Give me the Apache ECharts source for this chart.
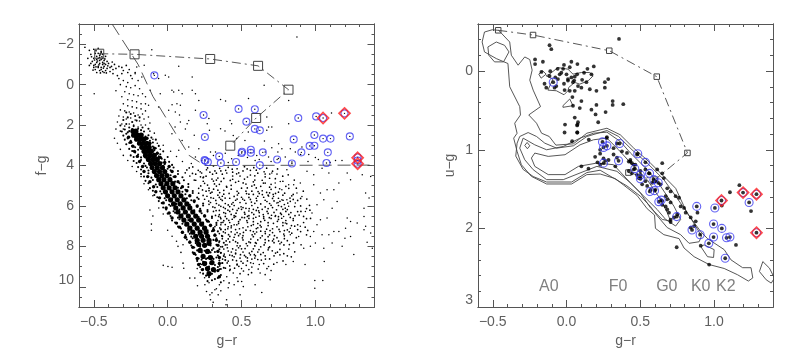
<!DOCTYPE html>
<html><head><meta charset="utf-8">
<script src="https://cdn.jsdelivr.net/npm/echarts@6/dist/echarts.min.js"></script>
<style>html,body{margin:0;padding:0;background:#fff}#c{width:797px;height:358px}</style></head>
<body><div id="c"></div>
<script>
// Values are estimates. Where the stars merge into a solid mass they cannot be
// read singly, so the dense ridge is a hand-placed, thinned set of heavier marks, not a star-by-star copy.
const xTicks=[-0.5,0,0.5,1];
const fgTicks=[-2,0,2,4,6,8,10];
const ugTicks=[0,1,2,3];
const spectralNames=['A0','F0','G0','K0','K2'];
const spectralX=[-0.12,0.35,0.68,0.91,1.08];
const spectralY=2.74;

// LEFT PANEL (g-r, f-g), flat x,y lists
const horizontalBranch=[-.56,-1.85,-.53,-1.7,-.5,-1.75,-.47,-1.8,-.45,-1.6,-.52,-1.5,-.49,-1.55,-.46,-1.45,-.44,-1.5,-.42,-1.4,-.5,-1.3,-.47,-1.3,-.45,-1.25,-.43,-1.2,-.51,-1.15,-.48,-1.1,-.46,-1.05,-.44,-1.1,-.42,-1,-.4,-1.05,-.5,-.95,-.47,-.9,-.45,-.85,-.43,-.9,-.41,-.8,-.49,-.75,-.46,-.7,-.44,-.65,-.42,-.7,-.39,-.65,-.54,-1.3,-.52,-1.05,-.38,-.9,-.36,-1,-.35,-.8,-.33,-.9,-.31,-.85,-.3,-.7,-.28,-.95,-.26,-.75,-.37,-.55,-.34,-.45,-.31,-.55,-.27,-.6,-.25,-.45,-.22,-.6,-.45,-1.65,-.48,-1.4,-.46,-1.2,-.44,-1,-.49,-1,-.47,-.85,-.45,-.75,-.43,-1.05,-.48,-1.25,-.46,-1.35,-.44,-1.3,-.41,-1.15,-.47,-1.55,-.43,-.6,-.39,-.85,-.37,-.75,-.48,-.6,-.5,-.85,-.53,-.95,-.455,-1.52,-.475,-1.17,-.495,-1.22,-.435,-.82,-.465,-.98,-.425,-1.27,-.405,-.93,-.515,-1.38,-.485,-1.68,-.445,-1.38,-.455,-.58,-.485,-.88,-.505,-.72,-.415,-.58,-.375,-1.12];
const upperTail=[-.33,-.3,-.3,-.2,-.27,-.1,-.24,-.3,-.2,-.2,-.32,0,-.28,.1,-.25,.15,-.22,.05,-.19,.2,-.29,.35,-.26,.45,-.23,.5,-.2,.55,-.17,.45,-.15,.6,-.24,.8,-.21,.85,-.18,.95,-.15,.95,-.27,.75,-.31,.6,-.35,.3,-.3,.95,-.27,1.05,-.24,1.1,-.21,1.15,-.18,1.2,-.32,1.25,-.29,1.3,-.26,1.35,-.23,1.4,-.2,1.5,-.17,1.45,-.15,1.3,-.33,1.55,-.3,1.6,-.28,1.7,-.25,1.65,-.22,1.75,-.19,1.8,-.16,1.7,-.13,1.6,-.34,1.85,-.31,1.95,-.29,2.05,-.26,1.95,-.23,2,-.2,2.1,-.18,2,-.15,2,-.12,1.9,-.35,2.2,-.32,2.3,-.3,2.2,-.12,2.3,-.09,2.4,-.1,2.7,-.07,2.9,-.05,3.2,-.03,3,-.36,2.65,-.34,2.9,-.32,3.2,-.3,3.5,-.27,3.75,-.24,4.05,-.21,4.3,-.18,4.55,-.16,4.9,-.13,5.2,-.1,5.5];
const sparseUpper=[-.107,-1.73,-.209,-.87,-.159,-.96,-.22,-.54,-.175,-.38,-.118,.28,-.05,.45,-.016,-.46,.007,-.38,-.061,-.3,.075,-.91,.166,-.38,.029,.28,.041,.36,.075,.28,.098,.45,.166,.28,.188,.45,.211,.78,.358,.74,.392,.81,-.129,1.02,-.061,1.11,.007,1.27,.063,.94,.086,1.02,.052,1.35,.143,1.77,.132,1.93,.086,1.85,.279,1.68,.268,1.93,.283,2.26,.358,2.18,.388,2.29,.188,1.27,-.095,-.54,-.497,.45,.098,2.76,.075,3.25,.143,3.09,.211,3.17,.324,3.33,.29,3.33,.31,3.5,.188,3.58,.23,3.75,.029,2.43,.03,1.0,.08,1.5,.12,2.2,.18,2.5,.05,2.1,.1,3.8,.06,3.55,.02,3.3,.16,3.9,.875,-2.36,.653,.03,.547,.69,.819,.78,.671,1.6,.819,1.93,.683,2.1,.671,2.26,.705,2.1,1.109,1.4,.422,1.77,.433,1.93,.444,2.51,.467,2.67,.523,2.76,.546,2.34,.655,2.79,.705,3.12,.751,2.92,.773,3.17,.746,3.33,.83,3.17,.864,3.33,.909,3.09,.955,3.45,1.0,3.6,.9,3.45,1.136,3.75,1.18,3.75,.841,3.83,.796,3.58,.66,3.33,.683,3.58,.603,3.5,.592,3.75,.524,3.33,.478,3.5,.433,3.67,.39,3.4,.41,3.85,.54,3.6,.62,3.7,.7,3.8,.75,3.65,.95,3.8,1.02,3.7,1.1,3.85];
const sparseRight=[.807,4.21,.943,4.29,.989,4.46,1.045,4.13,1.091,4.37,1.159,4.87,1.238,4.7,1.079,5.2,.989,4.95,1.034,5.36,1.125,5.2,1.215,4.37,1.317,4.46,1.374,4.54,1.34,5.36,1.363,5.61,1.147,5.78,1.057,5.69,1.011,5.94,1.113,6.11,1.079,6.6,1.034,6.68,1.011,6.93,.932,6.27,.977,6.35,1.238,6.77,1.215,6.6,1.283,6.85,1.329,6.52,1.204,7.1,1.159,7.26,1.125,7.26,1.091,7.43,1.045,7.43,.989,7.26,.966,8,.921,8.09,1.057,8.09,1.113,7.84,1.181,8,1.238,7.51,1.329,7.18,1.34,7.01,1.374,7.34,1.329,6.11,1.385,8.09,.966,7.51,1,7.84,.887,7.51,.898,7.01,.83,7.43,.83,7.1,.796,6.85,.785,6.52,.728,6.52,.705,4.37,.728,4.87,.762,4.79,.773,5.2,.819,4.95,.853,4.95,.898,4.87,.875,5.36,.909,5.53,.864,5.86,.819,6.02,.773,5.69,.739,5.86,.717,5.53,.807,5.69,.996,9.69,1.05,9.69,.996,10.07,1.06,8.75,1.35,7.8,1.26,8.4,1.2,7.6,.93,8.9,.8,8.9,.85,8.75];
const lowerTail=[.286,10.4,.29,10.64,.308,10.77,.342,10.4,.399,10.64,.395,10.89,.32,10.15,.263,10.23,.252,9.9,.202,9.95,.15,9.57,.184,9.57,-.03,8.94,.002,9,.03,9.03,.104,8.83,.109,9.08,.07,8,.104,7.92,.49,10.4,.637,10.28,.694,9.65,.66,9.4,.592,9.9,.512,9.99,.501,9.74,.444,9.32,.546,9.4,.626,9.32,.683,9,-.11,6.9,-.11,7.2,-.12,6.2,-.1,6.5,.03,7.5,0,7.2,.06,7.75,-.06,6.1,-.03,6.4,.09,8.3,.35,9.9,.38,9.7,.33,10.1,.36,10.2,.3,10.3,.41,10.05,.4,9.5,.45,9.9,.47,9.55,.42,9.2,.5,9.1,.58,8.85,.55,9.15,.62,8.9,.7,9.2,.74,8.8,.28,9.8,.25,9.55,.22,9.3,.2,9.1,.23,8.9];
const fieldCloud=[.13,4.22,.17,4.07,.22,4.31,.27,4.12,.31,4.02,.36,4.27,.41,4.09,.44,4.33,.52,4.06,.56,4.24,.61,4.38,.67,4.13,.71,4.28,.26,4.53,.34,4.62,.37,4.43,.44,4.68,.49,4.52,.54,4.57,.59,4.51,.64,4.73,.69,4.63,.74,4.42,.19,4.73,.25,4.88,.31,4.77,.35,4.93,.43,4.98,.46,4.83,.53,4.92,.58,4.81,.63,5.03,.66,4.87,.73,5.08,.78,4.78,.21,5.13,.28,5.24,.33,5.02,.38,5.23,.4,5.07,.47,5.28,.5,5.12,.57,5.27,.6,5.11,.67,5.33,.7,5.18,.75,5.32,.82,5.13,.85,5.43,.24,5.48,.29,5.37,.35,5.58,.38,5.42,.45,5.53,.48,5.37,.55,5.58,.58,5.43,.65,5.57,.68,5.47,.75,5.62,.78,5.47,.85,5.68,.88,5.73,.29,5.83,.36,5.67,.39,5.88,.46,5.72,.49,5.83,.56,5.68,.59,5.87,.66,5.72,.69,5.88,.76,5.77,.79,5.93,.86,6.03,.94,6.13,.32,6.08,.39,6.13,.42,6.03,.48,6.12,.51,6.08,.58,6.17,.61,6.08,.68,6.13,.71,6.08,.78,6.17,.81,6.18,.88,6.28,.35,6.43,.42,6.27,.45,6.48,.52,6.32,.55,6.48,.62,6.33,.65,6.53,.72,6.32,.75,6.53,.82,6.42,.85,6.63,.92,6.52,.38,6.73,.45,6.57,.48,6.78,.55,6.62,.58,6.78,.65,6.62,.68,6.83,.75,6.67,.78,6.83,.85,6.72,.88,6.93,.41,7.03,.48,6.87,.51,7.08,.58,6.92,.61,7.08,.68,6.97,.71,7.13,.78,6.97,.81,7.18,.88,7.17,.39,7.33,.46,7.17,.49,7.38,.56,7.22,.59,7.38,.66,7.27,.69,7.43,.76,7.27,.79,7.48,.41,7.63,.48,7.47,.51,7.68,.58,7.52,.61,7.68,.68,7.52,.71,7.73,.79,7.62,.39,7.93,.46,7.77,.49,7.98,.56,7.82,.59,7.98,.66,7.82,.69,8.03,.76,7.87,.41,8.23,.48,8.07,.51,8.28,.58,8.12,.61,8.28,.68,8.17,.73,8.33,.39,8.53,.46,8.37,.49,8.58,.56,8.42,.59,8.58,.66,8.47,.37,8.83,.44,8.67,.47,8.88,.54,8.72,.57,8.63,.35,9.13,.42,8.97,.47,8.92,.33,4.38,.4,4.37,.48,4.78,.57,5.02,.62,5.38,.71,5.63,.77,6.03,.53,5.27,.6,5.62,.43,5.17,.5,5.57,.53,5.87,.57,6.33,.46,6.52,.54,6.82,.6,7.12,.64,7.48,.72,7.82,.43,7.08,.51,7.47,.55,7.78,.63,8.02,.46,8.33,.54,8.57,.36,6.93,.35,7.37,.37,7.62,.38,8.13,.36,8.32,.34,5.22,.37,5.52,.42,5.62,.45,5.98,.5,6.17,.54,6.52,.61,6.87,.44,6.17,.39,6.52,.69,5.07,.73,5.38,.66,4.42,.59,4.72,.56,4.47,.51,4.27,.19,4.43,.18,4.72,.21,5.37,.25,5.67,.28,5.92,.31,6.27,.34,6.72,.32,7.02,.39,7.17,.3,4.67,.27,4.97,.23,4.37,.33,4.72,.28,5.12,.3,5.32,.26,5.27,.34,5.47,.31,5.62,.37,5.73,.33,5.88,.36,6.02,.41,5.95,.35,6.22,.38,6.33,.43,6.42,.4,6.63,.36,6.63,.42,6.82,.39,6.92,.45,6.93,.43,7.28,.47,7.32,.45,7.55,.42,7.78,.47,7.97,.44,8.12,.45,8.52,.42,8.43,.41,8.73,.5,8.12,.52,8.45,.49,6.68,.52,6.58,.47,6.22,.55,6.25,.53,6.12,.6,6.22,.64,6.17,.62,6.5,.58,6.62,.63,6.78,.7,6.62,.73,6.48,.68,6.37,.66,6.05,.7,5.97,.63,5.9,.57,5.98,.52,5.72,.47,5.66,.55,5.42,.61,5.52,.64,5.25,.69,5.35,.72,5.75,.75,5.98,.8,6.27,.83,6.57,.8,6.72,.77,6.42,.74,7.03,.71,7.32,.67,7.15,.63,7.25,.58,7.27,.53,7.2,.74,7.57,.77,7.8,.81,7.72,.66,7.67,.6,7.85,.54,7.97,.57,8.25,.63,8.4,.69,8.62,.76,8.42,.82,8.13,.86,8.27,.6,4.23,.47,4.16,.38,4.64,.24,4.6,.15,4.52,.32,4.27,.44,4.52,.52,4.67,.66,4.56,.7,4.93,.8,5.03,.84,5.5,.9,5.63,.83,5.77,.9,6,.96,5.97,.94,6.63,.89,6.45,.92,6.82,.86,7,.9,7.27,.84,7.35,.79,7.22,.94,7.43,.76,8.15,.72,8.47,.81,8.47,.65,8.85,.61,8.65,.51,8.83,.57,9.02,.49,9.35];
const fieldExtra=[.243,4.57,.286,4.33,.317,4.91,.362,4.79,.398,5.03,.424,4.74,.467,4.41,.511,4.86,.539,5.11,.587,4.96,.612,5.29,.648,4.87,.683,5.51,.729,4.65,.758,5.15,.792,5.37,.828,5.61,.311,5.17,.352,5.34,.389,5.61,.416,5.38,.443,5.83,.472,5.46,.508,5.66,.534,5.39,.567,5.81,.603,5.74,.641,5.44,.672,5.78,.714,5.43,.747,5.83,.781,5.72,.813,5.86,.293,5.59,.326,5.73,.347,5.96,.378,6.07,.408,6.21,.434,5.91,.463,6.36,.497,6.04,.523,6.41,.552,6.13,.583,6.42,.616,6.24,.647,6.43,.673,6.27,.703,6.46,.737,6.19,.764,6.36,.796,6.11,.834,6.33,.862,6.48,.324,6.47,.357,6.56,.392,6.37,.414,6.71,.437,6.66,.468,6.93,.503,6.57,.536,6.73,.566,6.97,.597,6.56,.626,6.96,.657,6.71,.688,6.58,.716,6.86,.743,6.76,.772,6.61,.806,6.88,.838,6.97,.353,7.09,.374,6.81,.407,7.13,.431,6.99,.456,7.41,.486,7.13,.513,7.31,.543,7.03,.572,7.43,.602,7.29,.633,7.04,.661,7.37,.693,7.22,.723,7.47,.754,7.16,.786,7.39,.823,7.28,.348,7.81,.366,7.47,.396,7.73,.421,7.51,.443,7.69,.474,7.83,.506,7.58,.532,7.86,.563,7.64,.594,7.82,.628,7.58,.653,7.93,.684,7.72,.717,7.64,.751,7.74,.787,7.93,.358,8.02,.383,8.38,.404,8.07,.431,8.28,.462,8.18,.493,8.41,.524,8.11,.553,8.33,.587,8.41,.618,8.16,.647,8.31,.683,8.08,.708,8.22,.743,8.29,.372,8.63,.403,8.82,.437,8.46,.466,8.71,.497,8.74,.529,8.52,.562,8.81,.594,8.47,.634,8.68,.662,8.63,.352,8.97,.391,9.08,.423,9.14,.453,9.08,.482,8.99,.513,9.22,.532,8.94,.222,4.56,.207,4.24,.168,4.39,.263,4.21,.241,4.78,.224,5.01,.236,5.21,.266,5.52,.278,5.76,.306,6.05,.328,6.23,.345,6.52,.362,6.83,.377,7.28,.412,7.42,.402,7.92,.146,4.12,.119,4.36,.304,4.43,.352,4.14,.393,4.24,.437,4.18,.481,4.36,.538,4.17,.583,4.11,.623,4.16,.691,4.42,.653,4.31,.744,4.17,.779,4.53,.816,4.46,.857,4.72,.871,5.12,.918,5.27,.942,5.66,.963,6.21,.967,6.62,.902,6.27,.931,7.05,.948,7.21,.871,7.57,.852,7.83,.903,7.92,.824,7.91,.786,8.36,.837,8.52,.781,8.72,.718,8.88,.672,9.1,.613,9.12,.568,9.3,.476,9.73,.416,9.81];
const ridgeMass=[-.3,1.75,-.27,1.62,-.24,1.85,-.21,1.78,-.32,2.02,-.28,1.95,-.26,2.12,-.23,2.05,-.2,2.18,-.17,2.12,-.31,2.32,-.29,2.22,-.27,2.36,-.24,2.2,-.21,2.38,-.18,2.25,-.16,2.32,-.13,2.18,-.3,2.52,-.28,2.43,-.26,2.58,-.17,2.46,-.15,2.57,-.13,2.5,-.11,2.62,-.29,2.72,-.27,2.66,-.25,2.78,-.14,2.67,-.12,2.78,-.1,2.86,-.08,2.72,-.28,2.95,-.26,2.88,-.24,3.02,-.22,3.1,-.12,2.96,-.1,3.06,-.08,3.15,-.06,3.03,-.26,3.18,-.24,3.28,-.22,3.36,-.2,3.22,-.09,3.25,-.07,3.36,-.05,3.44,-.03,3.3,-.25,3.5,-.23,3.58,-.2,3.46,-.18,3.6,-.06,3.55,-.04,3.66,-.02,3.72,0,3.58,-.23,3.78,-.21,3.88,-.18,3.73,-.16,3.9,-.04,3.86,-.02,3.94,.01,3.82,.03,3.97,-.2,4.08,-.18,4.2,-.15,4.02,-.13,4.25,0,4.16,.02,4.24,.04,4.1,.07,4.27,-.18,4.42,-.16,4.55,-.13,4.38,-.11,4.6,.02,4.48,.04,4.56,.07,4.42,.1,4.58,-.15,4.76,-.13,4.88,-.1,4.72,-.08,4.94,.05,4.8,.08,4.88,.11,4.73,.14,4.92,-.12,5.12,-.1,5.25,-.07,5.06,-.05,5.28,.09,5.12,.12,5.2,.14,5.06,.17,5.26,-.09,5.46,-.07,5.57,-.04,5.4,-.02,5.62,.12,5.42,.15,5.5,.17,5.36,.2,5.58,-.06,5.76,-.04,5.86,-.01,5.72,.01,5.94,.16,5.72,.18,5.82,.21,5.66,.24,5.88,-.03,6.08,-.01,6.18,.02,6,.04,6.26,.2,6.04,.22,6.14,.24,5.98,.27,6.2,0,6.38,.02,6.5,.05,6.34,.07,6.58,.23,6.36,.25,6.46,.27,6.28,.3,6.52,.03,6.72,.05,6.82,.08,6.66,.1,6.88,.26,6.68,.28,6.78,.3,6.6,.33,6.84,.07,7.02,.09,7.12,.12,6.96,.14,7.2,.29,7,.31,7.1,.33,6.94,.36,7.16,.1,7.34,.12,7.44,.14,7.28,.16,7.52,.3,7.25,.32,7.42,.34,7.26,.37,7.5,.13,7.66,.15,7.76,.17,7.6,.19,7.84,.31,7.68,.33,7.6,.35,7.75,.38,7.82,.16,7.96,.18,8.06,.2,8.2,.22,7.92,.29,7.96,.31,8.1,.33,7.92,.35,8.14,.37,8.02,.17,8.3,.19,8.42,.21,8.6,.23,8.3,.25,8.22,.29,8.3,.32,8.28,.34,8.45,.36,8.32,.38,8.48,.2,8.72,.22,8.86,.24,8.76,.26,8.62,.28,8.5,.31,8.62,.33,8.55,.35,8.7,.37,8.82,.39,8.68,.22,9.02,.24,9.14,.26,9.08,.28,9,.29,8.85,.32,8.92,.34,9.02,.36,9.12,.38,9.06,.24,9.35,.26,9.45,.28,9.52,.3,9.36,.32,9.25,.34,9.18,.36,9.42,.27,9.72,.3,9.68,.32,9.62,.34,9.56,.36,9.78,-.22,1.55,-.25,1.45,-.28,1.38,-.19,1.62,-.26,2.3,-.23,2.3,-.19,2.55,-.22,2.6,-.16,2.75,-.2,2.92,-.12,3.2,-.16,3.36,-.1,3.5,-.08,3.72,-.15,3.62,-.12,3.82,-.14,4.1,-.03,4.02,-.08,4.22,-.01,4.32,-.05,4.62,.02,4.66,.04,4.98,-.02,4.98,.07,5.1,.02,5.22,.1,5.3,.03,5.66,.13,5.62,.06,5.9,.15,5.95,.08,6.18,.18,6.22,.1,6.42,.21,6.55,.14,6.7,.24,6.82,.16,7.05,.27,7.2,.21,7.42,.15,7.38,.24,7.62,.28,7.85,.22,8.02,.26,8.24,.3,8.18,.27,8.58,.23,8.66,.29,8.85,.26,8.8,.3,9.18,.27,9.2];
const ridgeFlank=[-.265,2.6,-.25,2.85,-.235,3.05,-.225,3.3,-.205,3.55,-.19,3.8,-.17,4.05,-.16,4.3,-.135,4.55,-.12,4.8,-.095,5.05,-.08,5.3,-.055,5.6,-.03,5.85,-.01,6.1,.01,6.35,.03,6.6,.06,6.85,.08,7.05,.1,7.3,.12,7.55,.15,7.8,.17,8.05,.18,8.35,.2,8.6,.21,8.9,.235,9.15,-.14,2.65,-.12,2.9,-.09,3.15,-.07,3.4,-.05,3.6,-.02,3.85,.01,4.05,.03,4.3,.05,4.55,.07,4.8,.1,5.05,.13,5.25,.15,5.5,.18,5.75,.2,6,.22,6.25,.25,6.5,.27,6.75,.29,6.95,.31,7.2,.32,7.45,.33,7.7,.34,7.95,.34,8.25,.35,8.55,.35,8.85,.34,9.2,.35,9.5];
const ridgeCore=[-.235,2.3,-.215,2.3,-.23,2.5,-.205,2.5,-.18,2.5,-.21,2.7,-.185,2.7,-.16,2.7,-.19,2.9,-.165,2.9,-.14,2.9,-.175,3.1,-.15,3.1,-.125,3.1,-.16,3.3,-.135,3.3,-.11,3.3,-.15,3.5,-.12,3.5,-.09,3.5,-.13,3.7,-.1,3.7,-.07,3.7,-.115,3.9,-.085,3.9,-.055,3.9,-.105,4.1,-.07,4.1,-.035,4.1,-.09,4.3,-.055,4.3,-.02,4.3,-.075,4.5,-.04,4.5,-.005,4.5,-.06,4.7,-.025,4.7,.015,4.7,-.045,4.9,-.005,4.9,.035,4.9,-.03,5.1,.01,5.1,.05,5.1,-.015,5.3,.03,5.3,.07,5.3,0,5.5,.045,5.5,.09,5.5,.02,5.7,.065,5.7,.11,5.7,.04,5.9,.085,5.9,.13,5.9,.055,6.1,.105,6.1,.15,6.1,.07,6.3,.12,6.3,.17,6.3,.09,6.5,.14,6.5,.19,6.5,.11,6.7,.16,6.7,.21,6.7,.13,6.9,.18,6.9,.23,6.9,.15,7.1,.2,7.1,.25,7.1,.17,7.3,.22,7.3,.26,7.3,.19,7.5,.23,7.5,.27,7.5,.2,7.7,.24,7.7,.28,7.7,.21,7.9,.25,7.95,.28,7.85,.22,8.2,.27,8.25,.24,8.5,.29,8.55,.25,8.85,.3,8.8,.27,9.1,.31,9.15,.28,9.35];
const blueLeft=[-.09,-.46,.243,1.5,.48,1.2,.59,1.22,.533,1.83,.59,2.19,.624,2.26,.252,2.59,.884,1.65,1.005,1.57,1.052,1.65,1.197,1.42,1.233,2.56,.993,2.49,1.052,2.67,1.102,2.67,.853,2.71,.961,3.03,.993,3.02,.905,3.35,1.084,3.35,1.286,3.6,1.286,3.75,1.286,3.91,.741,3.7,.841,3.9,1.075,3.88,.644,3.35,.563,3.22,.563,3.37,.503,3.32,.501,3.38,.349,3.55,.25,3.73,.255,3.77,.272,3.83,.36,3.88,.463,3.83,.624,3.98];
const redLeft=[1.052,1.65,1.197,1.42,1.286,3.62,1.286,3.91];
const trackLeft=[-.463,-1.53,-.224,-1.5,.288,-1.27,.612,-.93,.818,.25,.599,1.65,.424,3.02];
const boundaryLeft=[-.376,-3,-.2,-1,-.1,.58,.145,3.5,.25,4,1.4,3.98];

// RIGHT PANEL (g-r, u-g)
const blackRight=[.356,-.41,-.115,-.33,-.103,-.28,-.213,-.15,-.213,-.09,-.16,-.12,-.17,.01,-.11,0,-.06,-.03,-.017,-.08,.033,-.12,.074,-.09,.142,-.03,.185,-.06,-.115,.06,-.076,.08,-.058,.1,-.035,.02,0,.04,.01,.1,.033,.08,.056,.07,.072,.04,.119,.02,.169,.04,-.069,.19,-.149,.16,-.017,.16,.01,.12,.044,.14,.078,.19,.106,.11,.135,.14,.158,.23,.203,.25,.26,.21,.26,.14,.283,.1,-.013,.24,.022,.25,.056,.25,.101,.21,-.081,.21,.04,.33,.044,.44,.101,.38,.203,.43,.169,.49,.197,.55,.265,.52,.313,.38,.313,.43,.385,.42,.09,.47,.056,.59,.078,.65,.072,.69,.215,.65,-.013,.78,.072,.78,.038,.89,.151,.87,.272,.85,-.046,.04,-.023,-.03,.022,-.05,.052,.12,-.137,.21,-.01,.68,.074,.68,.074,.78,.274,.84,.101,1.21,.149,1.24,.228,1,.194,1.09,.228,1.05,.21,1.16,.228,1.19,.251,1.11,.263,1.14,.285,1.13,.319,.98,.342,.92,.376,1.02,.319,1.06,.342,1.1,.331,1.21,.41,1.04,.433,1.15,.456,1.19,.478,1.06,.444,1.3,.478,1.32,.49,1.36,.422,1.27,.433,1.13,.444,1.17,.422,1.15,.467,1.19,.456,1.25,.501,1.36,.513,1.44,.535,1.4,.547,1.46,.581,1.42,.603,1.4,.615,1.25,.649,1.3,.66,1.36,.638,1.44,.683,1.49,.706,1.53,.74,1.59,.763,1.61,.672,1.59,.649,1.7,.672,1.72,.683,1.76,.695,1.8,.649,1.65,.706,1.67,.683,1.63,.774,1.72,.797,1.74,.808,1.8,.842,1.86,.876,1.91,.865,1.97,.729,1.86,.706,1.89,.706,1.92,.842,1.99,.751,1.82,.888,1.8,.91,2.22,.747,2.24,.967,2.46,1.172,1.45,1.108,1.54,1.251,1.78,1.053,1.71,1.149,2.21,.649,1.17,.535,1.25,.558,1.3,.501,1.27,.603,1.51,.57,1.51];
const blueRight=[-.09,.14,.244,.9,.251,.97,.274,.95,.36,.92,.483,1.05,.535,1.16,.251,1.17,.353,1.14,.463,1.24,.501,1.32,.563,1.3,.592,1.38,.501,1.37,.622,1.42,.565,1.53,.597,1.52,.626,1.66,.642,1.64,.747,1.85,.883,1.72,1.006,1.74,.997,1.945,1.053,2,.851,2.02,.906,2.08,.997,2.11,1.085,2.12,1.108,2.11,.965,2.19,1.076,2.38,1.238,1.67,1.051,1.645,1.197,1.545,1.288,1.565,1.288,2.055];
const redRight=[1.051,1.645,1.197,1.545,1.288,1.565,1.288,2.055];
const trackRight=[-.463,-.52,-.227,-.46,.29,-.26,.612,.07,.82,1.04,.6,1.38,.42,1.29];
const contourOuter=[-.503,-.527,-.46,-.519,-.385,-.371,-.374,-.203,-.328,-.076,-.283,-.181,-.249,-.148,-.233,-.013,-.249,.114,-.226,.241,-.176,.451,-.256,.557,-.203,.662,-.169,.789,-.117,.831,-.072,.941,.047,.924,.138,.789,.274,.726,.365,.81,.456,.979,.569,1.169,.66,1.338,.74,1.49,.819,1.81,.91,2.04,.956,2.13,1.069,2.27,1.115,2.4,1.194,2.5,1.251,2.5,1.263,2.63,1.233,2.67,1.16,2.59,1.069,2.51,.967,2.46,.865,2.36,.797,2.25,.763,2.13,.66,2.08,.603,2,.597,1.83,.547,1.75,.478,1.58,.388,1.45,.331,1.367,.228,1.308,.138,1.316,.035,1.435,-.135,1.435,-.238,1.338,-.306,1.19,-.335,1.02,-.358,.852,-.335,.79,-.351,.662,-.312,.557,-.317,.451,-.385,.198,-.397,-.097,-.476,-.16,-.556,-.245,-.572,-.371,-.556,-.498,-.503,-.527];
const contourSecond=[-.317,.831,-.26,.781,-.203,.831,-.147,.916,-.067,.979,.047,.949,.138,.831,.274,.755,.353,.831,.444,1,.547,1.169,.66,1.38,.74,1.59,.819,1.8,.888,2.01,.915,2.1,.899,2.17,.831,2.19,.774,2.08,.683,1.99,.615,1.84,.569,1.72,.501,1.59,.41,1.46,.319,1.36,.228,1.26,.138,1.29,.035,1.41,-.135,1.41,-.226,1.34,-.294,1.25,-.344,1.08,-.335,.916,-.317,.831];
const contourThird=[-.294,.852,-.215,.937,-.135,1,-.022,.958,.092,.852,.183,.789,.274,.776,.365,.895,.433,1.04,.547,1.253,.638,1.464,.728,1.717,.774,1.886,.74,1.97,.672,1.886,.615,1.76,.524,1.59,.433,1.42,.342,1.274,.206,1.211,.092,1.295,-.022,1.38,-.135,1.38,-.226,1.253,-.283,1.127,-.317,.979,-.294,.852];
const contourFourth=[-.215,1.042,-.124,1.084,-.01,1.063,.092,.937,.183,.873,.274,.852,.353,1,.456,1.211,.547,1.38,.638,1.633,.683,1.8,.706,1.907,.649,1.886,.569,1.738,.501,1.549,.433,1.42,.319,1.19,.206,1.169,.081,1.211,-.01,1.316,-.124,1.316,-.215,1.211,-.238,1.105,-.215,1.042];
const contourTopLoop=[-.533,-.308,-.476,-.371,-.42,-.329,-.39,-.245,-.427,-.118,-.488,-.118,-.527,-.203,-.533,-.308];
const contourStar=[-.138,.059,-.092,.101,-.126,.241,-.069,.249,-.017,.3,.01,.249,.015,.207,.056,.143,.09,.165,.147,.122,.181,.059,.158,.017,.101,.017,.044,.038,.01,-.025,-.058,-.046,-.115,.038,-.138,.059];
const contourDiamond=[-.188,.038,-.161,-.004,-.138,.038,-.172,.089,-.188,.038];
const contourTriangle=[-.024,.439,.022,.354,.044,.439,-.024,.46,-.024,.439];
const contourBowLeft=[-.283,.945,-.267,.907,-.249,.949,-.265,.987,-.283,.945];
const contourRightBlob=[.933,2.21,1.001,2.27,.997,2.37,.956,2.36,.91,2.23,.933,2.21];
const contourFarRight=[1.308,2.549,1.331,2.422,1.376,2.506,1.41,2.633,1.388,2.696,1.354,2.654,1.308,2.549];

const pairs=a=>{const r=[];for(let i=0;i<a.length;i+=2)r.push([a[i],a[i+1]]);return r;};
const FONT='"Liberation Sans"', AX='#555', TXT='#5f5f5f';
const chart=echarts.init(document.getElementById('c'),null,{renderer:'canvas'});
const grids=[{left:79,top:24,width:295.5,height:283},{left:478,top:24,width:295,height:283}];
const fmt=v=>(v<0?'\u2212':'')+Math.abs(v).toFixed(1);
const xAxes=[],yAxes=[];
function frame(g,ymin,ymax,yTicks,yMinor,yName,yGap){
  const lineCfg={show:true,onZero:false,lineStyle:{color:AX,width:1}};
  const xb={type:'value',gridIndex:g,min:-.6,max:1.4,splitLine:{show:false},axisLine:lineCfg};
  xAxes.push({...xb,position:'bottom',name:'g\u2212r',nameLocation:'middle',nameGap:23,nameTextStyle:{fontFamily:FONT,fontSize:14,color:TXT},
    axisTick:{customValues:xTicks,inside:true,length:7,lineStyle:{color:AX}},
    axisLabel:{customValues:xTicks,formatter:fmt,margin:8,fontFamily:FONT,fontSize:14,color:TXT,hideOverlap:false,showMinLabel:true,showMaxLabel:true}});
  xAxes.push({...xb,position:'bottom',interval:.1,axisTick:{inside:true,length:3,lineStyle:{color:AX}},axisLabel:{show:false}});
  xAxes.push({...xb,position:'top',axisTick:{customValues:xTicks,inside:true,length:7,lineStyle:{color:AX}},axisLabel:{show:false}});
  xAxes.push({...xb,position:'top',interval:.1,axisTick:{inside:true,length:3,lineStyle:{color:AX}},axisLabel:{show:false}});
  const yb={type:'value',gridIndex:g,min:ymin,max:ymax,inverse:true,splitLine:{show:false},axisLine:lineCfg};
  yAxes.push({...yb,position:'left',name:yName,nameLocation:'middle',nameGap:yGap,nameRotate:90,nameTextStyle:{fontFamily:FONT,fontSize:14,color:TXT},
    axisTick:{customValues:yTicks,inside:true,length:7,lineStyle:{color:AX}},
    axisLabel:{customValues:yTicks,formatter:v=>(v<0?'\u2212':'')+Math.abs(v),margin:5,fontFamily:FONT,fontSize:14,color:TXT,verticalAlignMaxLabel:'bottom'}});
  yAxes.push({...yb,position:'left',interval:yMinor,axisTick:{inside:true,length:3,lineStyle:{color:AX}},axisLabel:{show:false}});
  yAxes.push({...yb,position:'right',axisTick:{customValues:yTicks,inside:true,length:7,lineStyle:{color:AX}},axisLabel:{show:false}});
  yAxes.push({...yb,position:'right',interval:yMinor,axisTick:{inside:true,length:3,lineStyle:{color:AX}},axisLabel:{show:false}});
}
frame(0,-3,11,fgTicks,.5,'f\u2212g',30);
frame(1,-.6,3,ugTicks,.2,'u\u2212g',21);
const LX=0,LY=0,RX=4,RY=4;
const dots=(d,s,c,o)=>({type:'scatter',xAxisIndex:LX,yAxisIndex:LY,data:pairs(d),symbolSize:s,silent:true,animation:false,large:false,itemStyle:{color:c||'#000',opacity:o==null?1:o}});
const contour=d=>({type:'line',xAxisIndex:RX,yAxisIndex:RY,data:pairs(d),symbol:'none',silent:true,animation:false,z:2,lineStyle:{color:'#444',width:.9}});
const rings=(d,ax,ay,s)=>({type:'scatter',xAxisIndex:ax,yAxisIndex:ay,data:pairs(d),symbolSize:s,silent:true,animation:false,z:5,itemStyle:{color:'rgba(0,0,0,0)',borderColor:'#3c3cf0',borderWidth:1.1}});
const diamonds=(d,ax,ay)=>({type:'scatter',xAxisIndex:ax,yAxisIndex:ay,data:pairs(d),symbol:'diamond',symbolSize:11,silent:true,animation:false,z:6,itemStyle:{color:'rgba(0,0,0,0)',borderColor:'#ff2020',borderWidth:1.7}});
const track=(d,ax,ay,s)=>({type:'line',xAxisIndex:ax,yAxisIndex:ay,data:pairs(d),symbol:'rect',symbolSize:s,silent:true,animation:false,z:4,showSymbol:true,itemStyle:{color:'rgba(255,255,255,0)',borderColor:'#444',borderWidth:1},lineStyle:{color:'#444',width:.9,type:[9,4,2,4]}});
const series=[
 dots(ridgeCore,5.2),
 dots(ridgeFlank,3.4),
 dots(ridgeMass,2.1),
 dots(fieldCloud,1.7),dots(fieldExtra,1.7),dots(lowerTail,1.6),dots(sparseRight,1.5),dots(sparseUpper,1.5),dots(upperTail,1.6),dots(horizontalBranch,1.7),
 {type:'line',xAxisIndex:LX,yAxisIndex:LY,data:pairs(boundaryLeft),symbol:'none',silent:true,animation:false,z:3,lineStyle:{color:'#444',width:.9,type:[13,6]}},
 track(trackLeft,LX,LY,9),rings(blueLeft,LX,LY,7),dots(blueLeft,1.4),diamonds(redLeft,LX,LY),
 contour(contourOuter),contour(contourSecond),contour(contourThird),contour(contourFourth),contour(contourTopLoop),contour(contourStar),contour(contourDiamond),contour(contourTriangle),contour(contourBowLeft),contour(contourRightBlob),contour(contourFarRight),
 track(trackRight,RX,RY,5.5),
 {type:'scatter',xAxisIndex:RX,yAxisIndex:RY,data:pairs(blackRight.concat(blueRight)),symbolSize:3.8,silent:true,animation:false,z:4,itemStyle:{color:'#000'}},
 rings(blueRight,RX,RY,8),diamonds(redRight,RX,RY),
 {type:'scatter',xAxisIndex:RX,yAxisIndex:RY,symbolSize:0,silent:true,animation:false,z:7,
  data:spectralNames.map((n,i)=>({name:n,value:[spectralX[i],spectralY]})),
  label:{show:true,position:'inside',formatter:p=>p.name,fontFamily:FONT,fontSize:16,color:TXT}}
];
chart.setOption({animation:false,backgroundColor:'#fff',grid:grids,xAxis:xAxes,yAxis:yAxes,series});
</script></body></html>
